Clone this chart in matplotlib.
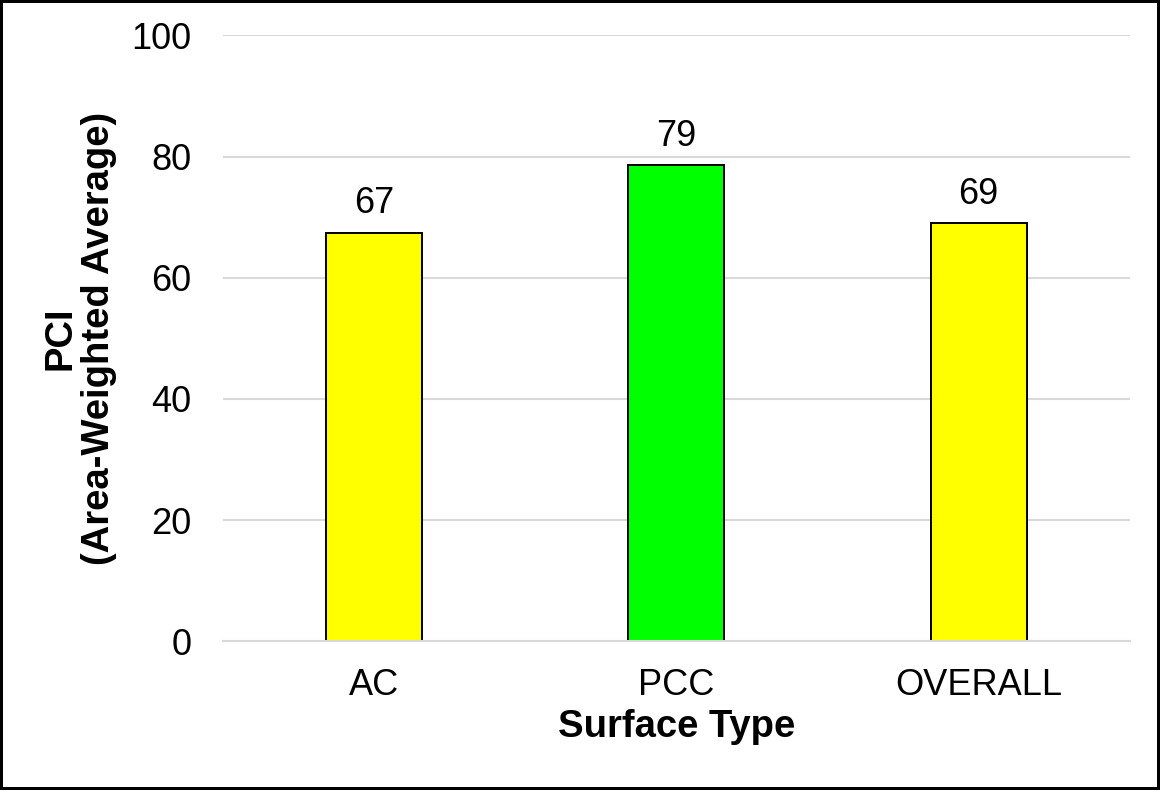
import matplotlib.pyplot as plt

# data
categories = ["AC", "PCC", "OVERALL"]
pci_values = [67.4, 78.6, 69.0]
value_labels = ["67", "79", "69"]
bar_colors = ["#FFFF00", "#00FF00", "#FFFF00"]
y_ticks = [0, 20, 40, 60, 80, 100]

plt.rcParams['font.family'] = ['Liberation Sans', 'DejaVu Sans']

fig = plt.figure(figsize=(11.6, 7.9), dpi=100)
fig.patch.set_edgecolor("black")
fig.patch.set_linewidth(3)
ax = fig.add_axes([0.1922, 0.1882, 0.7818, 0.7671])

x = range(len(categories))
bars = ax.bar(x, pci_values, width=0.317, color=bar_colors,
              edgecolor="black", linewidth=1.4, zorder=3)

for bar, lab in zip(bars, value_labels):
    ax.annotate(lab, (bar.get_x() + bar.get_width() / 2, bar.get_height()),
                xytext=(0, 14), textcoords="offset points",
                ha="center", va="baseline", fontsize=26)

ax.set_xlim(-0.5, 2.5)
ax.set_ylim(0, 100)
ax.set_yticks(y_ticks)
ax.set_xticks(list(x))
ax.set_xticklabels(categories)
ax.tick_params(axis="both", length=0, labelsize=26)
ax.tick_params(axis="x", pad=19.5)
ax.tick_params(axis="y", pad=22.5)

ax.grid(axis="y", color="#d9d9d9", linewidth=1.5, zorder=0)
for s in ["top", "right", "left"]:
    ax.spines[s].set_visible(False)
ax.spines["bottom"].set_color("#d9d9d9")
ax.spines["bottom"].set_linewidth(1.5)
ax.spines["bottom"].set_zorder(4)

ax.set_xlabel("Surface Type", fontsize=27.5, fontweight="bold", va="center")
ax.xaxis.set_label_coords(0.5, -0.141)
ax.set_ylabel("PCI\n(Area-Weighted Average)", fontsize=27.5,
              fontweight="bold", va="center", linespacing=1.1)
ax.yaxis.set_label_coords(-0.158, 0.5)

fig.savefig("out.png", dpi=100)
